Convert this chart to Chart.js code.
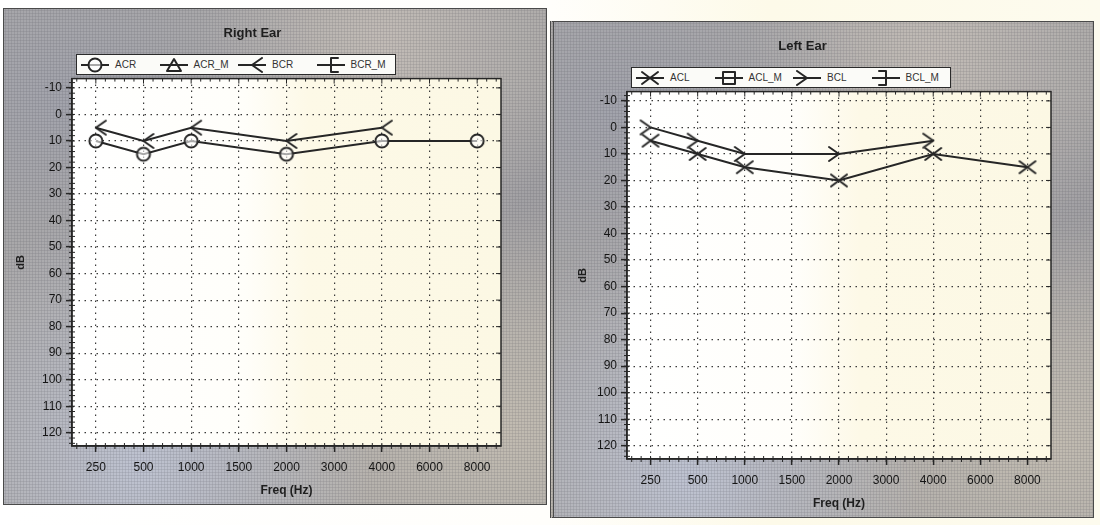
<!DOCTYPE html>
<html>
<head>
<meta charset="utf-8">
<script src="https://cdn.jsdelivr.net/npm/chart.js@4.4.0/dist/chart.umd.min.js"></script>
<style>
  body {
    margin: 0;
    width: 1100px;
    height: 525px;
    overflow: hidden;
    background: linear-gradient(90deg, #ffffff 0%, #fffefb 50%, #fdfae9 70%, #fdfbee 100%);
    font-family: "Liberation Sans", Arial, sans-serif;
  }
  .panel {
    position: absolute;
    width: 544px;
    height: 497px;
    box-sizing: border-box;
    border: 1px solid #4a4a4a;
    background:
      radial-gradient(circle, rgba(60,60,70,0.2) 0.8px, transparent 1.3px) 0 0 / 3px 3px,
      radial-gradient(ellipse at 12% 18%, rgba(150,155,175,0.45), transparent 38%),
      radial-gradient(ellipse at 70% 8%, rgba(215,205,195,0.5), transparent 35%),
      radial-gradient(ellipse at 25% 92%, rgba(200,208,230,0.65), transparent 40%),
      radial-gradient(ellipse at 92% 85%, rgba(215,205,185,0.5), transparent 40%),
      radial-gradient(ellipse at 96% 40%, rgba(150,150,158,0.5), transparent 30%),
      #acaaa9;
  }
  .panel .wrap { position: absolute; left: 0; top: 0; width: 542px; height: 495px; }
  #leftPanel { border-left: 4px double #4a4a4a; }
  .legend {
    position: absolute;
    top: 45px;
    width: 320px;
    height: 21px;
    border: 1.5px solid #2a2a2a;
    background: #fbfbf8;
    display: flex;
    align-items: center;
    padding-left: 4px;
    box-sizing: border-box;
  }
</style>
</head>
<body>
<div class="panel" id="rightPanel" style="left:3px; top:8px;">
  <div class="wrap"><canvas id="rightChart"></canvas></div>
</div>
<div class="panel" id="leftPanel" style="left:550px; top:21px;">
  <div class="wrap"><canvas id="leftChart"></canvas></div>
</div>

<script>
const freqLabels = ['250', '500', '1000', '1500', '2000', '3000', '4000', '6000', '8000'];
const dbTicks = [-10, 0, 10, 20, 30, 40, 50, 60, 70, 80, 90, 100, 110, 120];

// right ear
const acrValues = [10, 15, 10, null, 15, null, 10, null, 10];
const acrMValues = [];
const bcrValues = [5, 10, 5, null, 10, null, 5, null, null];
const bcrMValues = [];

// left ear
const aclValues = [5, 10, 15, null, 20, null, 10, null, 15];
const aclMValues = [];
const bclValues = [0, 5, 10, null, 10, null, 5, null, null];
const bclMValues = [];

const INK = '#262626';

Chart.defaults.font.family = '"Liberation Sans", Arial, sans-serif';

function drawMarker(ctx, type, x, y) {
    ctx.save();
    ctx.strokeStyle = INK;
    ctx.lineWidth = 2;
    ctx.lineJoin = 'round';
    ctx.lineCap = 'round';
    ctx.beginPath();
    switch (type) {
        case 'circle':
            ctx.arc(x, y, 6.5, 0, Math.PI * 2);
            ctx.fillStyle = 'rgba(255,255,255,0.6)';
            ctx.fill();
            break;
        case 'triangle':
            ctx.moveTo(x, y - 6);
            ctx.lineTo(x + 7, y + 6);
            ctx.lineTo(x - 7, y + 6);
            ctx.closePath();
            break;
        case 'square':
            ctx.rect(x - 6, y - 6, 12, 12);
            break;
        case 'x':
            ctx.moveTo(x - 8, y - 6); ctx.lineTo(x + 8, y + 6);
            ctx.moveTo(x - 8, y + 6); ctx.lineTo(x + 8, y - 6);
            break;
        case 'lt':
            ctx.moveTo(x + 10, y - 7); ctx.lineTo(x, y); ctx.lineTo(x + 10, y + 7);
            break;
        case 'gt':
            ctx.moveTo(x - 10, y - 7); ctx.lineTo(x, y); ctx.lineTo(x - 10, y + 7);
            break;
        case 'lbr':
            ctx.moveTo(x + 7, y - 7); ctx.lineTo(x, y - 7); ctx.lineTo(x, y + 7); ctx.lineTo(x + 7, y + 7);
            break;
        case 'rbr':
            ctx.moveTo(x - 7, y - 7); ctx.lineTo(x, y - 7); ctx.lineTo(x, y + 7); ctx.lineTo(x - 7, y + 7);
            break;
    }
    ctx.stroke();
    ctx.restore();
}

function markerCanvas(type, w, h, withLine) {
    const c = document.createElement('canvas');
    c.width = w;
    c.height = h;
    const ctx = c.getContext('2d');
    if (withLine) {
        ctx.strokeStyle = INK;
        ctx.lineWidth = 2;
        ctx.beginPath();
        ctx.moveTo(0, h / 2);
        ctx.lineTo(w, h / 2);
        ctx.stroke();
    }
    drawMarker(ctx, type, w / 2, h / 2);
    return c;
}

// dotted grid sits on a cream plot area, with a full frame and dense minor ticks
const plotDecor = {
    id: 'plotDecor',
    beforeDraw(chart) {
        const { ctx, chartArea: a } = chart;
        const g = ctx.createLinearGradient(a.left, 0, a.right, 0);
        g.addColorStop(0, '#ffffff');
        g.addColorStop(0.4, '#fffefa');
        g.addColorStop(0.55, '#fdf9e7');
        g.addColorStop(1, '#fcf8e4');
        ctx.save();
        ctx.fillStyle = g;
        ctx.fillRect(a.left, a.top, a.width, a.height);
        ctx.restore();
    },
    beforeDatasetsDraw(chart) {
        const { ctx, chartArea: a, scales } = chart;
        const x = scales.x, y = scales.y;
        ctx.save();
        ctx.strokeStyle = INK;
        ctx.lineWidth = 1.5;
        ctx.strokeRect(a.left, a.top, a.width, a.height);

        ctx.lineWidth = 1;
        ctx.beginPath();
        // y minor ticks every 2 dB, left side crossing the axis
        for (let v = -12; v <= 124; v += 2) {
            const py = y.getPixelForValue(v);
            if (py < a.top || py > a.bottom) continue;
            const major = v % 10 === 0;
            ctx.moveTo(a.left - 3, py);
            ctx.lineTo(a.left + 3, py);
            if (major) {
                ctx.moveTo(a.right - 5, py);
                ctx.lineTo(a.right, py);
            }
        }
        // x minor ticks, five per category step
        const x0 = x.getPixelForValue(0);
        const step = x.getPixelForValue(1) - x0;
        for (let i = -0.4; i <= 8.45; i += 0.2) {
            const px = x0 + i * step;
            if (px < a.left || px > a.right) continue;
            ctx.moveTo(px, a.bottom - 3);
            ctx.lineTo(px, a.bottom + 3);
            const major = Math.abs(i - Math.round(i)) < 0.01;
            ctx.moveTo(px, a.top);
            ctx.lineTo(px, a.top + (major ? 5 : 3));
        }
        ctx.stroke();
        ctx.restore();
    }
};

function makeLine(label, values, marker) {
    return {
        label: label,
        data: values,
        borderColor: INK,
        borderWidth: 2,
        spanGaps: true,
        pointStyle: markerCanvas(marker, 26, 20, false),
        pointRadius: 7,
        pointHoverRadius: 7,
        marker: marker,
    };
}

function buildLegend(panel, datasets, left) {
    const box = document.createElement('div');
    box.className = 'legend';
    box.style.left = left + 'px';
    datasets.forEach(ds => {
        const item = document.createElement('div');
        item.style.cssText = 'display:flex; align-items:center; width:84px;';
        const icon = markerCanvas(ds.marker, 28, 16, true);
        icon.style.cssText = 'display:block;';
        const text = document.createElement('span');
        text.textContent = ds.label;
        text.style.cssText = 'font-size:10px; color:#333; margin-left:6px;';
        item.appendChild(icon);
        item.appendChild(text);
        box.appendChild(item);
    });
    panel.appendChild(box);
}

function makeChart(canvasId, panelId, title, datasets, axisW, dbPad) {
    const ctx = document.getElementById(canvasId).getContext('2d');
    buildLegend(document.getElementById(panelId), datasets, axisW + 4);
    return new Chart(ctx, {
        type: 'line',
        data: { labels: freqLabels, datasets: datasets },
        options: {
            responsive: true,
            maintainAspectRatio: false,
            animation: false,
            layout: { padding: { left: 0, right: 45, top: 0, bottom: 0 } },
            plugins: {
                legend: { display: false },
                title: {
                    display: true,
                    text: title,
                    color: '#1e1e1e',
                    font: { size: 13, weight: 'bold' },
                    padding: { top: 17, bottom: 37 }
                },
                tooltip: { enabled: false }
            },
            scales: {
                x: {
                    type: 'category',
                    offset: true,
                    afterFit(scale) { scale.height = 58; },
                    grid: {
                        offset: false,
                        color: '#3a3a3a',
                        lineWidth: 1.2,
                        tickColor: INK,
                        tickWidth: 1.5,
                        tickLength: 6,
                        tickBorderDash: []
                    },
                    border: { display: true, color: INK, width: 1.5, dash: [1.5, 4.5] },
                    ticks: { color: '#151515', font: { size: 12 }, padding: 8, maxRotation: 0, autoSkip: false },
                    title: {
                        display: true,
                        text: 'Freq (Hz)',
                        color: '#1e1e1e',
                        font: { size: 12, weight: 'bold' },
                        padding: { top: 4, bottom: 6 }
                    }
                },
                y: {
                    type: 'linear',
                    reverse: true,
                    min: -13.5,
                    max: 125,
                    afterBuildTicks(scale) { scale.ticks = dbTicks.map(v => ({ value: v })); },
                    afterFit(scale) { scale.width = axisW; },
                    grid: {
                        color: '#3a3a3a',
                        lineWidth: 1.2,
                        tickColor: INK,
                        tickWidth: 1.5,
                        tickLength: 6,
                        tickBorderDash: []
                    },
                    border: { display: true, color: INK, width: 1.5, dash: [1.5, 4.5] },
                    ticks: { color: '#151515', font: { size: 12 }, padding: 4 },
                    title: {
                        display: true,
                        text: 'dB',
                        color: '#1e1e1e',
                        font: { size: 11, weight: 'bold' },
                        padding: { top: dbPad, bottom: 0 }
                    }
                }
            }
        },
        plugins: [plotDecor]
    });
}

makeChart('rightChart', 'rightPanel', 'Right Ear', [
    makeLine('ACR', acrValues, 'circle'),
    makeLine('ACR_M', acrMValues, 'triangle'),
    makeLine('BCR', bcrValues, 'lt'),
    makeLine('BCR_M', bcrMValues, 'lbr'),
], 68, 10);

makeChart('leftChart', 'leftPanel', 'Left Ear', [
    makeLine('ACL', aclValues, 'x'),
    makeLine('ACL_M', aclMValues, 'square'),
    makeLine('BCL', bclValues, 'gt'),
    makeLine('BCL_M', bclMValues, 'rbr'),
], 73, 22);
</script>
</body>
</html>
